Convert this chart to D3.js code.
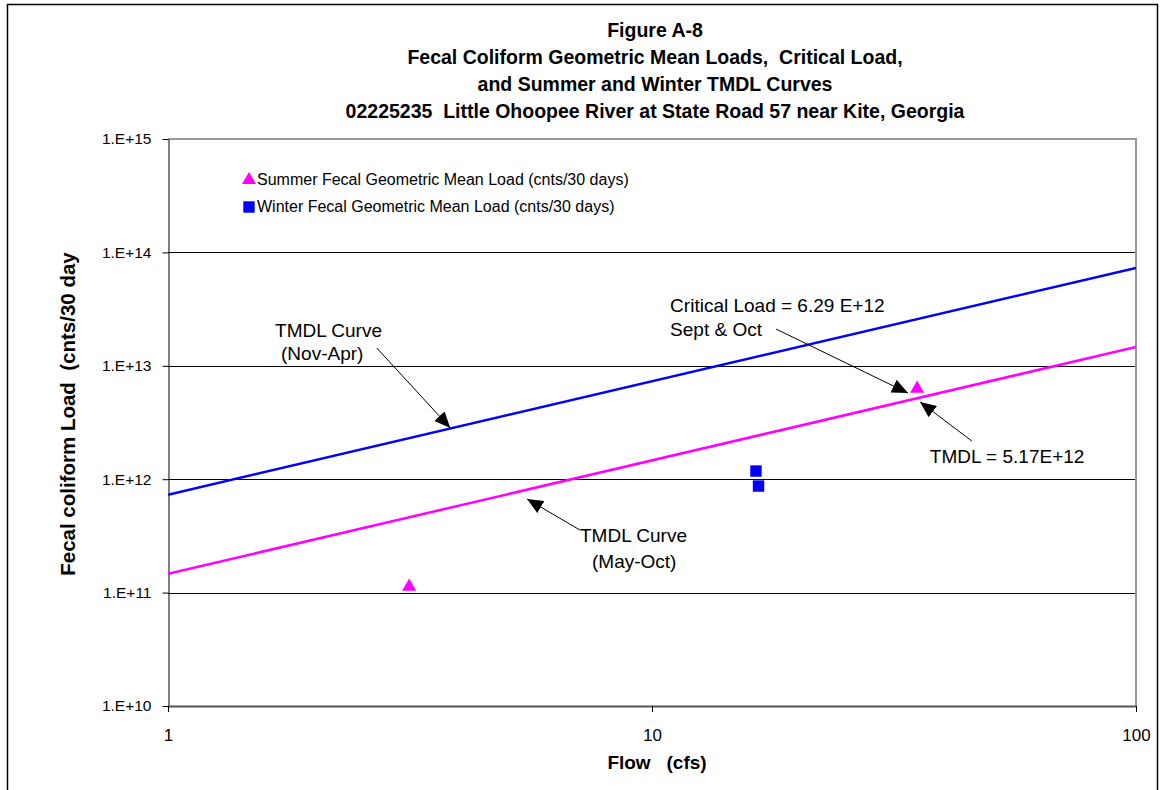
<!DOCTYPE html>
<html>
<head>
<meta charset="utf-8">
<script src="https://cdn.jsdelivr.net/npm/d3@7"></script>
<style>
  html, body { margin: 0; padding: 0; background: #fff; }
  svg { display: block; font-family: "Liberation Sans", Arial, sans-serif; }
  svg text { white-space: pre; }
</style>
</head>
<body>
<svg id="chart" width="1162" height="790"></svg>
<script>
// ---------- data ----------
const titleLines = [
  "Figure A-8",
  "Fecal Coliform Geometric Mean Loads,  Critical Load,",
  "and Summer and Winter TMDL Curves",
  "02225235  Little Ohoopee River at State Road 57 near Kite, Georgia"
];
const xAxisTitle = "Flow   (cfs)";
const yAxisTitle = "Fecal coliform Load  (cnts/30 day";

const xTickValues = [1, 10, 100];
const xTickLabels = ["1", "10", "100"];
const yTickValues = [1e10, 1e11, 1e12, 1e13, 1e14, 1e15];
const yTickLabels = ["1.E+10", "1.E+11", "1.E+12", "1.E+13", "1.E+14", "1.E+15"];

// TMDL curves (flow, load)
const curveFlow = [1, 100];
const winterTmdlLoad = [7.3e11, 7.3e13];
const summerTmdlLoad = [1.465e11, 1.465e13];

// geometric mean loads
const summerFlow = [3.15, 35.3];
const summerLoad = [1.13e11, 6.29e12];
const winterFlow = [16.4, 16.6];
const winterLoad = [1.18e12, 8.7e11];

const legendLabels = [
  "Summer Fecal Geometric Mean Load (cnts/30 days)",
  "Winter Fecal Geometric Mean Load (cnts/30 days)"
];

// annotations: text anchor and arrow tail/tip in data coordinates (flow, load)
const annotations = [
  { lines: ["TMDL Curve", "(Nov-Apr)"], text: [1.664, 1.795e13], from: [2.70, 1.436e13], to: [3.83, 2.83e12], indent: 6, gap: 23 },
  { lines: ["Critical Load = 6.29 E+12", "Sept & Oct"], text: [10.9, 2.98e13], from: [18.04, 2.11e13], to: [33.8, 5.75e12], indent: 0, gap: 24 },
  { lines: ["TMDL = 5.17E+12"], text: [37.5, 1.39e12], from: [45.8, 2.17e12], to: [35.8, 4.80e12], indent: 0, gap: 0 },
  { lines: ["TMDL Curve", "(May-Oct)"], text: [7.10, 2.79e11], from: [7.10, 3.56e11], to: [5.52, 6.69e11], indent: 12, gap: 26 }
];

// ---------- layout ----------
const svg = d3.select("#chart");
const pL = 168, pR = 1136, pT = 139, pB = 706;

const x = d3.scaleLog().domain([1, 100]).range([pL, pR]);
const y = d3.scaleLog().domain([1e10, 1e15]).range([pB, pT]);

const MAGENTA = "#ff00ff", BLUE = "#0000ff";

// outer frame
svg.append("rect")
  .attr("x", 7.5).attr("y", 4.5).attr("width", 1150).attr("height", 820)
  .attr("fill", "none").attr("stroke", "#000").attr("stroke-width", 1.5);

// title
svg.append("g").selectAll("text").data(titleLines).join("text")
  .attr("x", 655).attr("y", (d, i) => 37 + i * 27)
  .attr("text-anchor", "middle")
  .attr("font-size", 19.5).attr("font-weight", "bold")
  .text(d => d);

// gridlines
svg.append("g").selectAll("line").data(yTickValues.filter(v => v > 1e10 && v < 1e15)).join("line")
  .attr("x1", pL).attr("x2", pR)
  .attr("y1", d => Math.round(y(d)) + 0.5).attr("y2", d => Math.round(y(d)) + 0.5)
  .attr("stroke", "#000").attr("stroke-width", 1);

// top & right border (gray)
svg.append("path")
  .attr("d", `M${pL},${pT} H${pR} V${pB}`)
  .attr("fill", "none").attr("stroke", "#999").attr("stroke-width", 2);

// y axis
const yAxis = d3.axisLeft(y).tickValues(yTickValues)
  .tickFormat((d, i) => yTickLabels[i]).tickSize(6).tickSizeOuter(0);
const gy = svg.append("g").attr("transform", `translate(${pL + 0.5},0)`).call(yAxis);
gy.select(".domain").attr("stroke", "#000");
gy.selectAll(".tick line").attr("stroke", "#000");
gy.selectAll(".tick text").attr("font-size", 15.5).attr("fill", "#000")
  .attr("font-family", "'Liberation Sans', Arial, sans-serif").attr("dx", "-8");

// x axis
const xAxis = d3.axisBottom(x).tickValues(xTickValues)
  .tickFormat((d, i) => xTickLabels[i]).tickSize(6).tickSizeOuter(0);
const gx = svg.append("g").attr("transform", `translate(0,${pB})`).call(xAxis);
gx.select(".domain").attr("stroke", "#555").attr("stroke-width", 2);
gx.selectAll(".tick line").attr("stroke", "#000");
gx.selectAll(".tick text").attr("font-size", 17).attr("fill", "#000")
  .attr("font-family", "'Liberation Sans', Arial, sans-serif").attr("y", 35).attr("dy", 0);

// axis titles
svg.append("text").attr("x", 657).attr("y", 769).attr("text-anchor", "middle")
  .attr("font-size", 19).attr("font-weight", "bold").text(xAxisTitle);
svg.append("text").attr("transform", "translate(75,414) rotate(-90)")
  .attr("text-anchor", "middle").attr("font-size", 20.5).attr("font-weight", "bold").text(yAxisTitle);

// clip
svg.append("clipPath").attr("id", "plotclip").append("rect")
  .attr("x", pL).attr("y", pT).attr("width", pR - pL).attr("height", pB - pT);

// curves
const line = d3.line().x(d => x(d[0])).y(d => y(d[1]));
const plot = svg.append("g").attr("clip-path", "url(#plotclip)");
plot.append("path").datum(curveFlow.map((f, i) => [f, winterTmdlLoad[i]]))
  .attr("d", line).attr("fill", "none").attr("stroke", BLUE).attr("stroke-width", 2.5);
plot.append("path").datum(curveFlow.map((f, i) => [f, summerTmdlLoad[i]]))
  .attr("d", line).attr("fill", "none").attr("stroke", MAGENTA).attr("stroke-width", 2.5);

// markers
const tri = d3.symbol().type(d3.symbolTriangle).size(85);
const sq = d3.symbol().type(d3.symbolSquare).size(130);
svg.append("g").selectAll("path").data(summerFlow.map((f, i) => [f, summerLoad[i]])).join("path")
  .attr("d", tri).attr("transform", d => `translate(${x(d[0])},${y(d[1])})`).attr("fill", MAGENTA);
svg.append("g").selectAll("path").data(winterFlow.map((f, i) => [f, winterLoad[i]])).join("path")
  .attr("d", sq).attr("transform", d => `translate(${x(d[0])},${y(d[1])})`).attr("fill", BLUE);

// legend
const lg = svg.append("g");
lg.append("path").attr("d", tri).attr("transform", "translate(249,180)").attr("fill", MAGENTA);
lg.append("path").attr("d", sq).attr("transform", "translate(249,207)").attr("fill", BLUE);
lg.selectAll("text").data(legendLabels).join("text")
  .attr("x", 257).attr("y", (d, i) => 185 + i * 27)
  .attr("font-size", 16).attr("fill", "#000").text(d => d);

// arrowhead
svg.append("defs").append("marker")
  .attr("id", "arrow").attr("markerUnits", "userSpaceOnUse")
  .attr("viewBox", "0 0 16 14").attr("refX", 16).attr("refY", 7)
  .attr("markerWidth", 16).attr("markerHeight", 14).attr("orient", "auto")
  .append("path").attr("d", "M0,0 L16,7 L0,14 Z").attr("fill", "#000");

// annotations
const ag = svg.append("g");
annotations.forEach(a => {
  ag.append("line")
    .attr("x1", x(a.from[0])).attr("y1", y(a.from[1]))
    .attr("x2", x(a.to[0])).attr("y2", y(a.to[1]))
    .attr("stroke", "#000").attr("stroke-width", 1).attr("marker-end", "url(#arrow)");
  a.lines.forEach((t, i) => {
    ag.append("text")
      .attr("x", x(a.text[0]) + (i > 0 ? a.indent : 0))
      .attr("y", y(a.text[1]) + i * a.gap)
      .attr("font-size", 19).attr("fill", "#000").text(t);
  });
});
</script>
</body>
</html>
